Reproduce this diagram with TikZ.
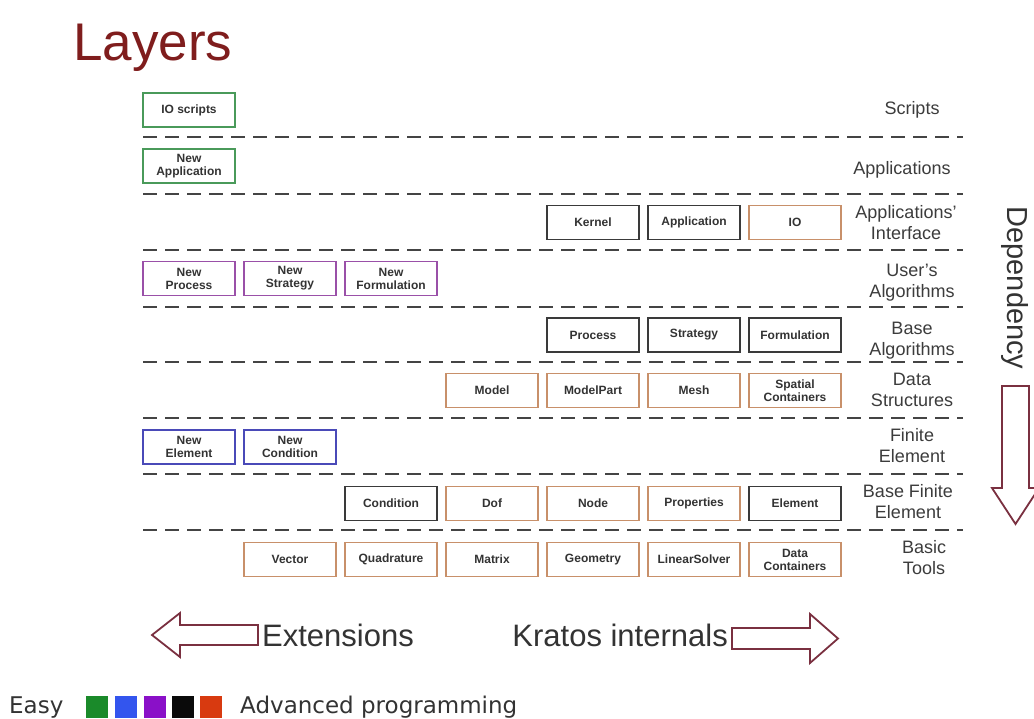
\documentclass[tikz,border=0pt]{standalone}
\usepackage{fontspec}
\setmainfont{Liberation Sans}
\newfontfamily\legendfont{DejaVu Sans}
\definecolor{grn}{HTML}{4A9A5A}
\definecolor{blk}{HTML}{3A3A3A}
\definecolor{org}{HTML}{C8906A}
\definecolor{pur}{HTML}{9A50A8}
\definecolor{blu}{HTML}{4A4AB8}
\definecolor{txt}{HTML}{333333}
\definecolor{lbl}{HTML}{3C3C3C}
\definecolor{dsh}{HTML}{444444}
\definecolor{ttl}{HTML}{7F1D1D}
\definecolor{arr}{HTML}{7A3040}
\definecolor{lg1}{HTML}{1A8A2A}
\definecolor{lg2}{HTML}{3355EE}
\definecolor{lg3}{HTML}{8A10C8}
\definecolor{lg4}{HTML}{0A0A0A}
\definecolor{lg5}{HTML}{D83A10}
\tikzset{
  box/.style={draw=#1, line width=1.8pt, fill=white, minimum width=92pt, minimum height=34pt,
    inner sep=0pt, align=center, text=txt, font=\fontsize{12}{13}\selectfont\bfseries},
  layerlabel/.style={align=center, text=lbl, inner sep=0pt, font=\fontsize{18}{21}\selectfont},
  sep/.style={draw=dsh, line width=2.6pt, dash pattern=on 14pt off 8pt},
  bigarrow/.style={draw=arr, line width=1.8pt, fill=white, line join=miter},
  bigtext/.style={text=txt, inner sep=0pt, font=\fontsize{31}{31}\selectfont},
  legtext/.style={text=txt, inner sep=0pt, font=\legendfont\fontsize{23}{23}\selectfont},
  legsq/.style={minimum width=22pt, minimum height=22pt, inner sep=0pt, draw=none},
}
\begin{document}
\begin{tikzpicture}[x=1pt,y=-1pt]
\useasboundingbox (0,0) rectangle (1034,718);
\fill[white] (0,0) rectangle (1034,718);
% title
\node[anchor=base west, inner sep=0pt, text=ttl, font=\fontsize{53}{53}\selectfont] (title) at (73,60) {Layers};
% separators
\foreach \y in {137,194,250,307,362,418,474,530}
  \draw[sep] (143,\y) -- (963,\y);
% layer labels
\node[layerlabel] (lScripts) at (912,110) {Scripts};
\node[layerlabel] (lApps) at (902,170) {Applications};
\node[layerlabel] (lAppInt) at (906,222.5) {Applications'\\Interface};
\node[layerlabel] (lUser) at (912,282.5) {User's\\Algorithms};
\node[layerlabel] (lBaseAlg) at (912,341) {Base\\Algorithms};
\node[layerlabel] (lData) at (912,389.5) {Data\\Structures};
\node[layerlabel] (lFE) at (912,446) {Finite\\Element};
\node[layerlabel] (lBFE) at (908,501.5) {Base Finite\\Element};
\node[layerlabel] (lBasic) at (924,557.5) {Basic\\Tools};
% row: scripts
\node[box=grn] (ioscripts) at (189,110) {IO scripts};
% row: applications
\node[box=grn] (newapp) at (189,166) {New\\Application};
% row: applications' interface
\node[box=blk] (kernel) at (593,222.5) {Kernel};
\node[box=blk] (application) at (694,222.5) {Application};
\node[box=org] (io) at (795,222.5) {IO};
% row: user's algorithms
\node[box=pur] (newprocess) at (189,278.5) {New\\Process};
\node[box=pur] (newstrategy) at (290,278.5) {New\\Strategy};
\node[box=pur] (newformulation) at (391,278.5) {New\\Formulation};
% row: base algorithms
\node[box=blk] (process) at (593,335) {Process};
\node[box=blk] (strategy) at (694,335) {Strategy};
\node[box=blk] (formulation) at (795,335) {Formulation};
% row: data structures
\node[box=org] (model) at (492,390.5) {Model};
\node[box=org] (modelpart) at (593,390.5) {ModelPart};
\node[box=org] (mesh) at (694,390.5) {Mesh};
\node[box=org] (spatial) at (795,390.5) {Spatial\\Containers};
% row: finite element
\node[box=blu] (newelement) at (189,447) {New\\Element};
\node[box=blu] (newcondition) at (290,447) {New\\Condition};
% row: base finite element
\node[box=blk] (condition) at (391,503.5) {Condition};
\node[box=org] (dof) at (492,503.5) {Dof};
\node[box=org] (node) at (593,503.5) {Node};
\node[box=org] (properties) at (694,503.5) {Properties};
\node[box=blk] (element) at (795,503.5) {Element};
% row: basic tools
\node[box=org] (vector) at (290,559.5) {Vector};
\node[box=org] (quadrature) at (391,559.5) {Quadrature};
\node[box=org] (matrix) at (492,559.5) {Matrix};
\node[box=org] (geometry) at (593,559.5) {Geometry};
\node[box=org] (linsolver) at (694,559.5) {LinearSolver};
\node[box=org] (datacont) at (795,559.5) {Data\\Containers};
% dependency
\node[rotate=-90, text=txt, inner sep=0pt, font=\fontsize{29}{29}\selectfont] (dep) at (1015,288) {Dependency};
\draw[bigarrow] (1002,386) -- (1029,386) -- (1029,488) -- (1039,488) -- (1015.5,524) -- (992,488) -- (1002,488) -- cycle;
% extensions / internals
\draw[bigarrow] (258,625) -- (180,625) -- (180,613) -- (152,635) -- (180,657) -- (180,645) -- (258,645) -- cycle;
\node[bigtext, anchor=base west] (ext) at (262,646) {Extensions};
\node[bigtext, anchor=base east] (kin) at (728,646) {Kratos internals};
\draw[bigarrow] (732,628) -- (810,628) -- (810,614) -- (838,638.5) -- (810,663) -- (810,649) -- (732,649) -- cycle;
% legend
\node[legtext, anchor=base west] (easy) at (9,713) {Easy};
\node[legsq, fill=lg1] (sq1) at (97,707) {};
\node[legsq, fill=lg2] (sq2) at (126,707) {};
\node[legsq, fill=lg3] (sq3) at (155,707) {};
\node[legsq, fill=lg4] (sq4) at (183,707) {};
\node[legsq, fill=lg5] (sq5) at (211,707) {};
\node[legtext, anchor=base west] (adv) at (240,713) {Advanced programming};
\end{tikzpicture}
\end{document}
